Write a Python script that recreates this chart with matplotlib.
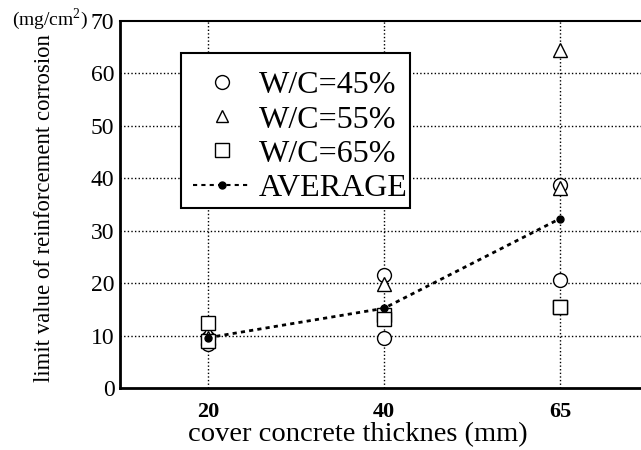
import matplotlib
matplotlib.use("Agg")
import matplotlib.pyplot as plt
from matplotlib.lines import Line2D
from matplotlib.patches import Rectangle

plt.rcParams['font.family'] = ['Liberation Serif', 'DejaVu Serif']
plt.rcParams['mathtext.fontset'] = 'custom'
plt.rcParams['mathtext.rm'] = 'Liberation Serif'

categories = ['20', '40', '65']
# two specimens per W/C ratio
wc45_a = [9.6, 21.5, 38.7]
wc45_b = [8.4, 9.5, 20.6]
wc55_a = [10.6, 19.8, 64.4]
wc55_b = [9.6, 13.4, 38.2]
wc65_a = [12.4, 13.9, 15.5]
wc65_b = [9.0, 13.1, 15.5]
average = [9.6, 15.2, 32.3]
yticks = [0, 10, 20, 30, 40, 50, 60, 70]

W, H = 641, 450
fig = plt.figure(figsize=(W / 100, H / 100), dpi=100)
ax = fig.add_axes([120/W, 62/H, 528/W, 367/H])
x = list(range(len(categories)))

ax.set_xlim(-0.5, 2.5)
ax.set_ylim(0, 70)
ax.set_xticks(x)
ax.set_xticklabels(categories, fontsize=16, fontweight='bold')
ax.set_yticks(yticks)
ax.set_yticklabels([str(v) for v in yticks], fontsize=17)
ax.tick_params(axis='both', length=0)
ax.tick_params(axis='x', pad=10)
ax.tick_params(axis='y', pad=4)

for g in x:
    ax.axvline(g, color='black', lw=1.0, ls=(0, (1, 1.6)), zorder=1)
for v in yticks[1:-1]:
    ax.axhline(v, color='black', lw=1.0, ls=(0, (1, 1.6)), zorder=1)

for s in ['left', 'bottom']:
    ax.spines[s].set_linewidth(2.0)
ax.spines['top'].set_linewidth(1.5)
ax.spines['right'].set_visible(False)

mk = dict(linestyle='none', markerfacecolor='white', markeredgecolor='black',
          markeredgewidth=1.0, markersize=10, zorder=3)
for ser in (wc45_a, wc45_b):
    ax.plot(x, ser, marker='o', **mk)
for ser in (wc55_a, wc55_b):
    ax.plot(x, ser, marker='^', **mk)
for ser in (wc65_a, wc65_b):
    ax.plot(x, ser, marker='s', **mk)
ax.plot(x, average, color='black', lw=2.0, ls=(0, (1.5, 1.5)), marker='o',
        markersize=5, zorder=4)

# legend frame
box = Rectangle((181/W, 1 - 208/H), 229/W, 155/H, transform=fig.transFigure,
                facecolor='white', edgecolor='black', lw=1.5, zorder=5, clip_on=False)
ax.add_patch(box)

handles = [
    Line2D([], [], marker='o', linestyle='none', markerfacecolor='white', markeredgecolor='black', markersize=10),
    Line2D([], [], marker='^', linestyle='none', markerfacecolor='white', markeredgecolor='black', markersize=9),
    Line2D([], [], marker='s', linestyle='none', markerfacecolor='white', markeredgecolor='black', markersize=10),
    Line2D([], [], color='black', lw=1.5, ls=(0, (2, 2)), marker='o', markersize=5),
]
labels = ['W/C=45%', 'W/C=55%', 'W/C=65%', 'AVERAGE']
leg = ax.legend(handles, labels, loc='upper left',
                bbox_to_anchor=(193/W, 1 - 71/H), bbox_transform=fig.transFigure,
                fontsize=23, frameon=False, handlelength=1.8,
                handletextpad=0.26, labelspacing=0.15, borderpad=0,
                borderaxespad=0)
leg.set_zorder(6)

fig.text(358/W, 1 - 435/H, 'cover concrete thicknes (mm)', fontsize=20.5,
         ha='center', va='center')
fig.text(45/W, 1 - 208/H, 'limit value of reinforcement corrosion', fontsize=16.4,
         ha='center', va='center', rotation=90)
fig.text(50/W, 1 - 19/H, '(mg/cm$^{2}$)', fontsize=14, ha='center', va='center')

fig.savefig('out.png', dpi=100)
